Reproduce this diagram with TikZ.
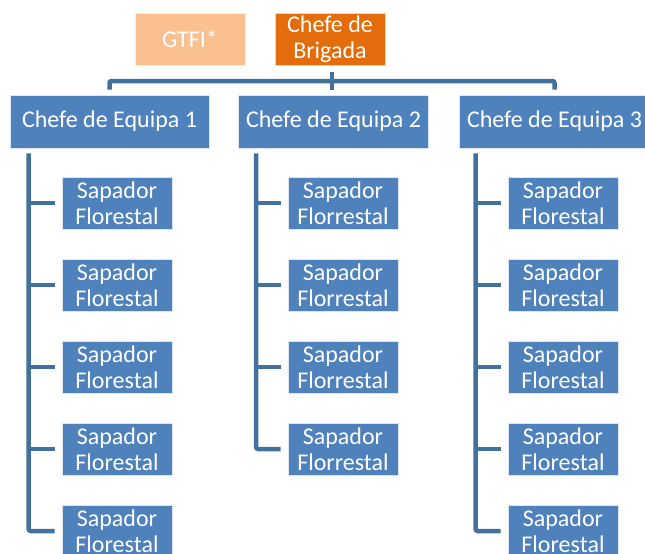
\documentclass[tikz,border=0pt]{standalone}
\usepackage{fontspec}
\setmainfont{Carlito}
\definecolor{boxblue}{HTML}{4F81BD}
\definecolor{lineblue}{HTML}{41719C}
\definecolor{lightorange}{HTML}{FAC090}
\definecolor{darkorange}{HTML}{E46C0A}
\tikzset{
  box/.style={fill=boxblue, draw=white!80!boxblue, line width=0.6pt, text=white, inner sep=0pt,
    font=\fontsize{24}{26}\selectfont, align=center},
  eqbox/.style={box, minimum width=#1, minimum height=53pt},
  sapbox/.style={box, minimum width=110pt, minimum height=52pt},
  topbox/.style={box, minimum width=110pt, minimum height=52pt},
  conn/.style={draw=lineblue, line width=4.5pt, rounded corners=2pt}
}
\begin{document}
\begin{tikzpicture}[x=1pt,y=-1pt]
\useasboundingbox (0,0) rectangle (645,554);
\clip (0,0) rectangle (645,554);
% top
\node[topbox, fill=lightorange, draw=white!70!lightorange] (gtfi) at (190,39) {GTFI*};
\node[topbox, fill=darkorange, draw=white!70!darkorange] (cb) at (330,39) {Chefe de\\Brigada};
% team leaders
\node[eqbox=199pt] (e1) at (109.5,121.5) {Chefe de Equipa 1};
\node[eqbox=190pt] (e2) at (333.5,121.5) {Chefe de Equipa 2};
\node[eqbox=191pt] (e3) at (554.5,121.5) {Chefe de Equipa 3};
% sapadores
\foreach \i/\y in {1/203,2/285,3/367,4/449,5/531}{
  \node[sapbox] (s1\i) at (117,\y) {Sapador\\Florestal};
  \node[sapbox] (s3\i) at (563,\y) {Sapador\\Florestal};
}
\foreach \i/\y in {1/203,2/285,3/367,4/449}{
  \node[sapbox] (s2\i) at (343,\y) {Sapador\\Florrestal};
}
% top connectors
\coordinate (bar) at (332,81);
\draw[conn] ([yshift=5pt]e1.north) |- (bar) -| ([yshift=5pt]e3.north);
\draw[conn, rounded corners=0pt] ([yshift=-7pt]cb.south -| bar) -- ([yshift=5pt]e2.north -| bar);
% column spines
\coordinate (sp1) at ([xshift=19pt,yshift=-5pt]e1.south west);
\coordinate (sp2) at ([xshift=18pt,yshift=-5pt]e2.south west);
\coordinate (sp3) at ([xshift=17pt,yshift=-5pt]e3.south west);
\draw[conn] (sp1) |- ([xshift=-7pt]s15.west);
\draw[conn] (sp2) |- ([xshift=-7pt]s24.west);
\draw[conn] (sp3) |- ([xshift=-7pt]s35.west);
\foreach \i in {1,2,3,4}{
  \draw[conn] (sp1 |- s1\i.west) -- ([xshift=-7pt]s1\i.west);
  \draw[conn] (sp3 |- s3\i.west) -- ([xshift=-7pt]s3\i.west);
}
\foreach \i in {1,2,3}{
  \draw[conn] (sp2 |- s2\i.west) -- ([xshift=-7pt]s2\i.west);
}
\end{tikzpicture}
\end{document}
